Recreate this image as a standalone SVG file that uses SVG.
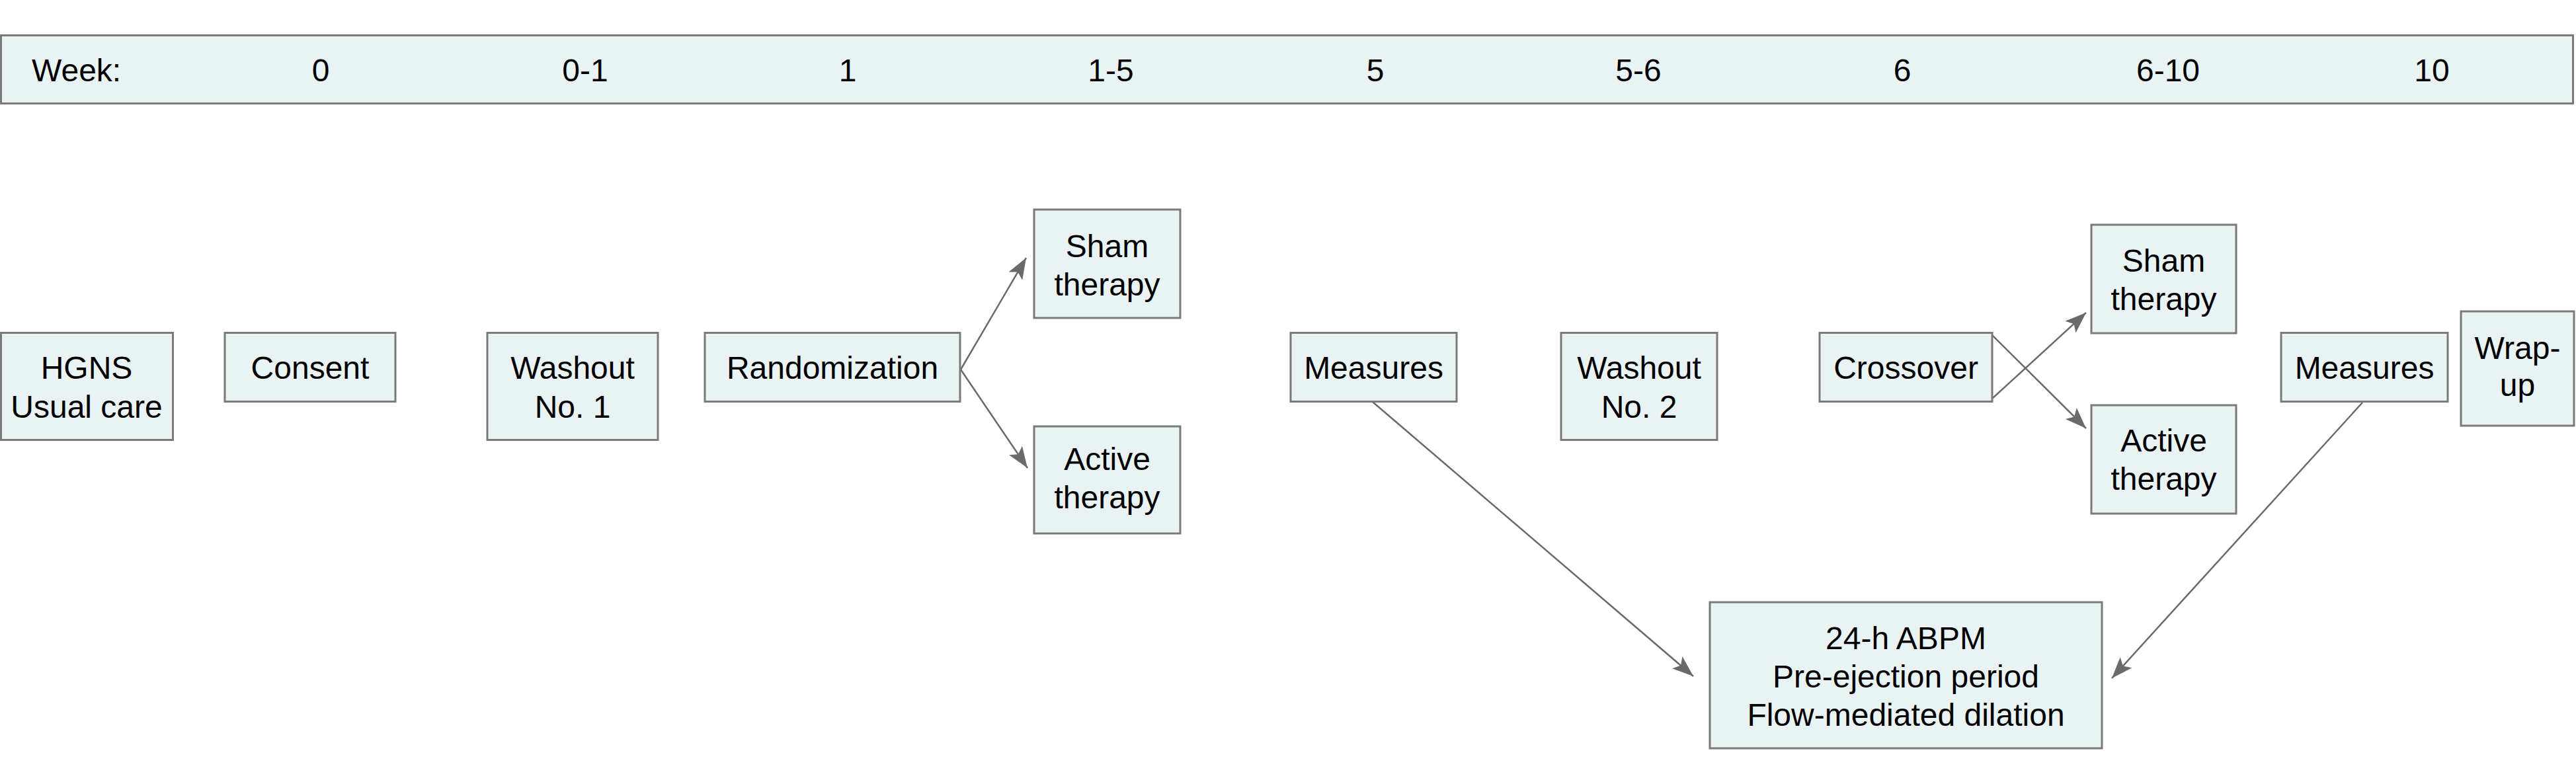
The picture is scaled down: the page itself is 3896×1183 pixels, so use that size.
<svg xmlns="http://www.w3.org/2000/svg" width="3896" height="1183" viewBox="0 0 3896 1183">
<style>
.box{fill:#e9f3f4;stroke:#7a7a7a;stroke-width:3}
.t{font-family:"Liberation Sans",Arial,sans-serif;font-size:48px;fill:#000;text-anchor:middle}
.tl{font-family:"Liberation Sans",Arial,sans-serif;font-size:48px;fill:#000}
.c{stroke:#6a6a6a;stroke-width:2.5;fill:none;marker-end:url(#ah)}
</style>
<defs>
<marker id="ah" markerUnits="userSpaceOnUse" markerWidth="34" markerHeight="26" refX="32" refY="12" orient="auto">
<path d="M0,0 L32,12 L0,24 L7,12 z" fill="#6a6a6a"/>
</marker>
</defs>
<rect width="3896" height="1183" fill="#fff"/>
<g id="header">
<rect class="box" x="1.5" y="53.5" width="3890" height="103"/>
<text class="tl" x="48" y="123">Week:</text>
<text class="t" x="485" y="123">0</text>
<text class="t" x="885" y="123">0-1</text>
<text class="t" x="1282" y="123">1</text>
<text class="t" x="1680" y="123">1-5</text>
<text class="t" x="2080" y="123">5</text>
<text class="t" x="2478" y="123">5-6</text>
<text class="t" x="2877" y="123">6</text>
<text class="t" x="3279" y="123">6-10</text>
<text class="t" x="3678" y="123">10</text>
</g>
<g id="connectors">
<line class="c" x1="1453" y1="559" x2="1552" y2="390"/>
<line class="c" x1="1453" y1="559" x2="1554" y2="708"/>
<line class="c" x1="2076" y1="608" x2="2561" y2="1023"/>
<line class="c" x1="3573" y1="609" x2="3194" y2="1026"/>
<line class="c" x1="3013" y1="603" x2="3155" y2="473"/>
<line class="c" x1="3013" y1="507" x2="3155" y2="648"/>
</g>
<g id="hgns">
<rect class="box" x="1.5" y="503.5" width="260" height="162"/>
<text class="t" x="131" y="573">HGNS</text>
<text class="t" x="131" y="632">Usual care</text>
</g>
<g id="consent">
<rect class="box" x="340" y="503.5" width="258" height="104"/>
<text class="t" x="469" y="573">Consent</text>
</g>
<g id="washout1">
<rect class="box" x="737" y="503.5" width="258" height="162"/>
<text class="t" x="866" y="573">Washout</text>
<text class="t" x="866" y="632">No. 1</text>
</g>
<g id="randomization">
<rect class="box" x="1066" y="503.5" width="386" height="104"/>
<text class="t" x="1259" y="573">Randomization</text>
</g>
<g id="sham1">
<rect class="box" x="1564" y="317" width="221" height="164"/>
<text class="t" x="1674.5" y="389">Sham</text>
<text class="t" x="1674.5" y="447">therapy</text>
</g>
<g id="active1">
<rect class="box" x="1564" y="645" width="221" height="162"/>
<text class="t" x="1674.5" y="711">Active</text>
<text class="t" x="1674.5" y="769">therapy</text>
</g>
<g id="measures1">
<rect class="box" x="1952" y="503.5" width="251" height="104"/>
<text class="t" x="2077.5" y="573">Measures</text>
</g>
<g id="washout2">
<rect class="box" x="2361" y="503.5" width="236" height="162"/>
<text class="t" x="2479" y="573">Washout</text>
<text class="t" x="2479" y="632">No. 2</text>
</g>
<g id="crossover">
<rect class="box" x="2752" y="503.5" width="261" height="104"/>
<text class="t" x="2882.5" y="573">Crossover</text>
</g>
<g id="sham2">
<rect class="box" x="3163" y="340" width="219" height="164"/>
<text class="t" x="3272.5" y="411">Sham</text>
<text class="t" x="3272.5" y="469">therapy</text>
</g>
<g id="active2">
<rect class="box" x="3163" y="613" width="219" height="164"/>
<text class="t" x="3272.5" y="683">Active</text>
<text class="t" x="3272.5" y="741">therapy</text>
</g>
<g id="measures2">
<rect class="box" x="3450" y="503.5" width="252" height="104"/>
<text class="t" x="3576" y="573">Measures</text>
</g>
<g id="wrapup">
<rect class="box" x="3722" y="471" width="171" height="173"/>
<text class="t" x="3807.5" y="543">Wrap-</text>
<text class="t" x="3807.5" y="599">up</text>
</g>
<g id="abpm">
<rect class="box" x="2586" y="911" width="593" height="221"/>
<text class="t" x="2882.5" y="982">24-h ABPM</text>
<text class="t" x="2882.5" y="1040">Pre-ejection period</text>
<text class="t" x="2882.5" y="1098">Flow-mediated dilation</text>
</g>
</svg>
